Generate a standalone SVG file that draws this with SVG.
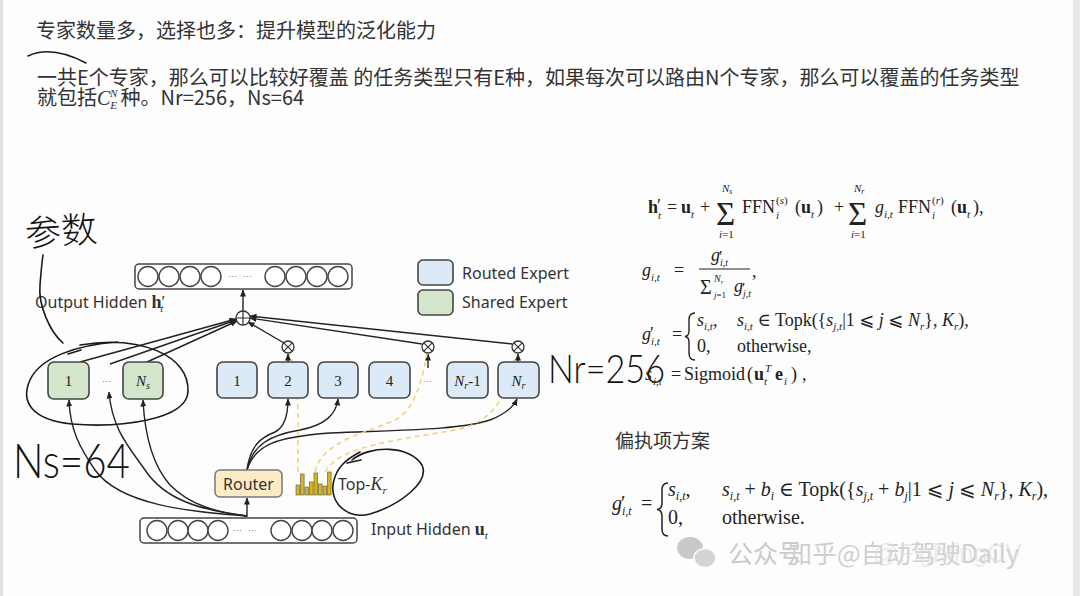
<svg xmlns="http://www.w3.org/2000/svg" width="1080" height="596" viewBox="0 0 1080 596">
<defs>
<marker id="ah" markerUnits="userSpaceOnUse" markerWidth="7" markerHeight="6" refX="6.5" refY="3" orient="auto"><path d="M0,0 L7,3 L0,6 z" fill="#222"/></marker>
<style>
.cn{font-family:"Noto Sans CJK SC","Noto Sans",sans-serif;fill:#333}
.t{font-family:"Noto Sans","Liberation Sans",sans-serif;font-size:16px;fill:#333}
.m{font-family:"Liberation Serif","DejaVu Serif","DejaVu Sans",serif;font-size:18px;fill:#222}
.i{font-style:italic}
.b{font-weight:bold}
.s{font-size:11px}
.box{stroke:#444;stroke-width:1.6}
.rt{fill:#dce9f6}
.sh{fill:#d3e6cc}
.bar{fill:#fff;stroke:#444;stroke-width:1.5}
.cir{fill:#fff;stroke:#444;stroke-width:1.4}
.num{font-family:"Liberation Serif",serif;font-size:15px;fill:#222;text-anchor:middle}
.dots{font-family:"Liberation Sans",sans-serif;font-size:9px;fill:#777}
.ln{fill:none;stroke:#222;stroke-width:1.4}
.yd{fill:none;stroke:#f1cf72;stroke-width:1.5;stroke-dasharray:5 4}
.hw{fill:none;stroke:#1a1a1a;stroke-width:1.6;stroke-linecap:round}
.hwt{font-family:Lato,"Liberation Sans",sans-serif;font-weight:300;fill:#111}
.op{fill:#fff;stroke:#333;stroke-width:1.3}
</style>
</defs>
<rect width="1080" height="596" fill="#fdfdfd"/>
<rect x="0" y="0" width="3" height="596" fill="#e2e2e2"/>
<rect x="1073" y="0" width="7" height="596" fill="#e8e8e8"/>

<g id="header">
<text class="cn" x="36" y="38" font-size="20">专家数量多，选择也多：提升模型的泛化能力</text>
<text class="cn" x="37" y="85" font-size="20">一共E个专家，那么可以比较好覆盖 的任务类型只有E种，如果每次可以路由N个专家，那么可以覆盖的任务类型</text>
<text class="cn" x="37" y="105" font-size="20">就包括<tspan font-family="Liberation Serif,serif" font-style="italic" font-size="20">C</tspan><tspan font-family="Liberation Serif,serif" font-style="italic" font-size="11" dy="4">E</tspan><tspan font-family="Liberation Serif,serif" font-style="italic" font-size="11" dx="-7" dy="-12">N</tspan><tspan dy="8" dx="3">种。Nr=256，Ns=64</tspan></text>
<path class="hw" d="M28,56 C45,48 65,52 86,63" stroke-width="1.3"/>
</g>

<g id="output-hidden">
<rect class="bar" x="135" y="264" width="217" height="25" rx="4"/>
<circle class="cir" cx="148" cy="276.5" r="10"/><circle class="cir" cx="169" cy="276.5" r="10"/><circle class="cir" cx="190" cy="276.5" r="10"/><circle class="cir" cx="211" cy="276.5" r="10"/>
<text class="dots" x="228" y="279">···</text><text class="dots" x="243" y="279">···</text>
<circle class="cir" cx="275" cy="276.5" r="10"/><circle class="cir" cx="296" cy="276.5" r="10"/><circle class="cir" cx="317" cy="276.5" r="10"/><circle class="cir" cx="338" cy="276.5" r="10"/>
<text class="t" x="35" y="308">Output Hidden <tspan font-family="Liberation Serif,serif" font-weight="bold" font-size="18">h</tspan><tspan font-family="Liberation Serif,serif" font-size="17" dy="-1">′</tspan><tspan font-family="Liberation Serif,serif" font-style="italic" font-size="11" dx="-5" dy="5">t</tspan></text>
</g>

<g id="legend">
<rect class="box rt" x="418" y="260" width="35" height="25" rx="5"/>
<text class="t" x="462" y="279">Routed Expert</text>
<rect class="box sh" x="418" y="290" width="35" height="25" rx="5"/>
<text class="t" x="462" y="308">Shared Expert</text>
</g>

<g id="connectors">
<path class="ln" d="M243,311 L243,290" marker-end="url(#ah)"/>
<path class="ln" d="M80,362 L236,319" marker-end="url(#ah)"/>
<path class="ln" d="M110,364 L236,320" marker-end="url(#ah)"/>
<path class="ln" d="M147,362 L237,321" marker-end="url(#ah)"/>
<path class="ln" d="M284,343 L248,322" marker-end="url(#ah)"/>
<path class="ln" d="M422,344 L250,318" marker-end="url(#ah)"/>
<path class="ln" d="M512,344 L250,316" marker-end="url(#ah)"/>
<path class="ln" d="M288,362 L288,354" marker-end="url(#ah)"/>
<path class="ln" d="M428,368 L428,354" marker-end="url(#ah)"/>
<path class="ln" d="M518,362 L518,354" marker-end="url(#ah)"/>
<path class="ln" d="M247,517 L247,498" marker-end="url(#ah)"/>
<path class="ln" d="M247,516 C190,512 120,505 95,470 C80,448 70,430 69,400" marker-end="url(#ah)"/>
<path class="ln" d="M247,516 C200,510 165,500 145,470 C130,448 112,430 109,392" marker-end="url(#ah)"/>
<path class="ln" d="M247,516 C215,512 190,505 170,485 C155,468 145,440 143,400" marker-end="url(#ah)"/>
<path class="ln" d="M247,470 C250,445 262,437 275,432 C285,427 288,415 288,399" marker-end="url(#ah)"/>
<path class="ln" d="M247,470 C252,445 270,435 300,430 C325,425 336,415 338,399" marker-end="url(#ah)"/>
<path class="ln" d="M247,470 C255,445 275,437 330,433 C400,430 460,430 490,420 C505,414 513,408 517,399" marker-end="url(#ah)"/>
<path class="yd" d="M298,472 L298,420 C298,390 295,370 290,354"/>
<path class="yd" d="M315,472 C322,440 370,432 395,420 C415,410 422,380 427,354"/>
<path class="yd" d="M325,472 C340,445 400,440 455,430 C495,422 508,395 515,354"/>
</g>

<g id="plus">
<circle class="op" cx="243" cy="318" r="7"/>
<path d="M236,318 H250 M243,311 V325" stroke="#333" stroke-width="1.2"/>
</g>
<g id="mult-2">
<circle class="op" cx="288" cy="347" r="6"/>
<path d="M283.8,342.8 L292.2,351.2 M292.2,342.8 L283.8,351.2" stroke="#333" stroke-width="1.2"/>
</g>
<g id="mult-k">
<circle class="op" cx="428" cy="347" r="6"/>
<path d="M423.8,342.8 L432.2,351.2 M432.2,342.8 L423.8,351.2" stroke="#333" stroke-width="1.2"/>
</g>
<g id="mult-nr">
<circle class="op" cx="518" cy="347" r="6"/>
<path d="M513.8,342.8 L522.2,351.2 M522.2,342.8 L513.8,351.2" stroke="#333" stroke-width="1.2"/>
</g>

<g id="shared-1"><rect class="box sh" x="48" y="362" width="41" height="37" rx="6"/><text class="num" x="68.5" y="386">1</text></g>
<g id="shared-dots"><text class="dots" x="102" y="384">···</text></g>
<g id="shared-ns"><rect class="box sh" x="123" y="362" width="40" height="37" rx="6"/><text class="num" x="143" y="386"><tspan font-style="italic">N</tspan><tspan font-style="italic" font-size="10" dy="3">s</tspan></text></g>

<g id="routed-1"><rect class="box rt" x="217" y="362" width="40" height="36" rx="6"/><text class="num" x="237" y="386">1</text></g>
<g id="routed-2"><rect class="box rt" x="268" y="362" width="40" height="36" rx="6"/><text class="num" x="288" y="386">2</text></g>
<g id="routed-3"><rect class="box rt" x="318" y="362" width="40" height="36" rx="6"/><text class="num" x="338" y="386">3</text></g>
<g id="routed-4"><rect class="box rt" x="369" y="362" width="41" height="36" rx="6"/><text class="num" x="389.5" y="386">4</text></g>
<g id="routed-dots"><text class="dots" x="423" y="384">···</text></g>
<g id="routed-nr-1"><rect class="box rt" x="447" y="362" width="41" height="36" rx="6"/><text class="num" x="467.5" y="386"><tspan font-style="italic">N</tspan><tspan font-style="italic" font-size="10" dy="3">r</tspan><tspan dy="-3">-1</tspan></text></g>
<g id="routed-nr"><rect class="box rt" x="498" y="362" width="41" height="36" rx="6"/><text class="num" x="518.5" y="386"><tspan font-style="italic">N</tspan><tspan font-style="italic" font-size="10" dy="3">r</tspan></text></g>

<g id="router"><rect x="215" y="470" width="67" height="27" rx="5" fill="#fbecc6" stroke="#777" stroke-width="1.5"/><text class="t" x="248.5" y="490" text-anchor="middle">Router</text></g>

<g id="topk">
<g fill="#d9b51c" stroke="#555" stroke-width="0.6">
<rect x="296" y="485" width="3.6" height="10"/><rect x="300.5" y="474" width="3.6" height="21"/><rect x="305" y="487" width="3.6" height="8"/><rect x="309.5" y="482" width="3.6" height="13"/><rect x="314" y="473" width="3.6" height="22"/><rect x="318.5" y="484" width="3.6" height="11"/><rect x="323" y="486" width="3.6" height="9"/><rect x="327.5" y="472" width="3.6" height="23"/>
</g>
<text class="t" x="338" y="490">Top-<tspan font-family="Liberation Serif,serif" font-style="italic" font-size="18">K</tspan><tspan font-family="Liberation Serif,serif" font-style="italic" font-size="11" dy="4">r</tspan></text>
</g>

<g id="input-hidden">
<rect class="bar" x="140" y="518" width="217" height="25" rx="4"/>
<circle class="cir" cx="157" cy="530.5" r="10"/><circle class="cir" cx="178" cy="530.5" r="10"/><circle class="cir" cx="198" cy="530.5" r="10"/><circle class="cir" cx="218" cy="530.5" r="10"/>
<text class="dots" x="233" y="533">···</text><text class="dots" x="248" y="533">···</text>
<circle class="cir" cx="281" cy="530.5" r="10"/><circle class="cir" cx="302" cy="530.5" r="10"/><circle class="cir" cx="322" cy="530.5" r="10"/><circle class="cir" cx="343" cy="530.5" r="10"/>
<text class="t" x="371" y="535">Input Hidden <tspan font-family="Liberation Serif,serif" font-weight="bold" font-size="18">u</tspan><tspan font-family="Liberation Serif,serif" font-style="italic" font-size="11" dy="4">t</tspan></text>
</g>

<g id="annotations">
<path class="hw" d="M80,345 C140,335 190,355 188,392 C186,420 120,428 72,424 C32,420 20,402 30,380 C40,358 75,345 118,342"/>
<path class="hw" d="M68,354 L81,350" stroke-width="1.2"/>
<path class="hw" d="M63,343 C50,332 38,305 40,285 C41,272 42,262 43,255" stroke-width="1"/>
<text class="cn" x="25" y="244" font-size="36" font-weight="300" transform="rotate(-4 60 230)" style="fill:#111">参数</text>
<path class="hw" d="M352,460 C370,445 410,445 422,465 C430,482 400,505 370,514 C345,520 328,500 334,480 C337,468 345,460 360,452"/>
<path class="hw" d="M347,463 L361,460" stroke-width="1.2"/>
<text class="hwt" x="13" y="478" font-size="48" textLength="117" lengthAdjust="spacingAndGlyphs">Ns=64</text>
<text class="hwt" x="548" y="383" font-size="40" textLength="117" lengthAdjust="spacingAndGlyphs">Nr=256</text>
</g>

<g id="formulas">
<text class="m b" x="648" y="213">h</text><text class="m" x="657" y="212">′</text><text class="m i s" x="658" y="219">t</text>
<text class="m" x="667" y="213">=</text>
<text class="m b" x="681" y="213">u</text><text class="m i s" x="691" y="218">t</text>
<text class="m" x="700" y="213">+</text>
<text class="m" x="716" y="225" style="font-size:33px">Σ</text>
<text class="m i s" x="722" y="192">N<tspan style="font-size:8px" dy="2">s</tspan></text>
<text class="m s" x="719" y="238"><tspan class="i">i</tspan>=1</text>
<text class="m" x="742" y="213">FFN</text><text class="m s" x="776" y="204">(<tspan class="i">s</tspan>)</text><text class="m i s" x="776" y="219">i</text>
<text class="m" x="795" y="213">(</text><text class="m b" x="801" y="213">u</text><text class="m i s" x="811" y="218">t</text><text class="m" x="817" y="213">)</text>
<text class="m" x="834" y="213">+</text>
<text class="m" x="848" y="225" style="font-size:33px">Σ</text>
<text class="m i s" x="854" y="192">N<tspan style="font-size:8px" dy="2">r</tspan></text>
<text class="m s" x="851" y="238"><tspan class="i">i</tspan>=1</text>
<text class="m i" x="875" y="213">g</text><text class="m i s" x="884" y="218">i,t</text>
<text class="m" x="898" y="213">FFN</text><text class="m s" x="932" y="204">(<tspan class="i">r</tspan>)</text><text class="m i s" x="932" y="219">i</text>
<text class="m" x="951" y="213">(</text><text class="m b" x="957" y="213">u</text><text class="m i s" x="967" y="218">t</text><text class="m" x="973" y="213">),</text>

<text class="m i" x="642" y="276">g</text><text class="m i s" x="651" y="281">i,t</text>
<text class="m" x="674" y="276">=</text>
<text class="m i" x="711" y="261">g</text><text class="m" x="719" y="262" style="font-size:16px">′</text><text class="m i" x="720" y="266" style="font-size:10px">i,t</text>
<line x1="699" y1="269" x2="750" y2="269" stroke="#222" stroke-width="1"/>
<text class="m" x="700" y="294" style="font-size:20px">Σ</text>
<text class="m i" x="714" y="282" style="font-size:10px">N<tspan style="font-size:7px" dy="2">r</tspan></text>
<text class="m" x="714" y="298" style="font-size:9px"><tspan class="i">j</tspan>=1</text>
<text class="m i" x="734" y="292">g</text><text class="m" x="742" y="293" style="font-size:15px">′</text><text class="m i" x="743" y="297" style="font-size:10px">j,t</text>
<text class="m" x="752" y="277">,</text>

<text class="m i" x="642" y="340">g</text><text class="m" x="650" y="340">′</text><text class="m i s" x="651" y="345">i,t</text>
<text class="m" x="672" y="340">=</text>
<path d="M695,313 Q689,313 689,320 L689,331 Q689,336 685,336.5 Q689,337 689,342 L689,353 Q689,360 695,360" fill="none" stroke="#222" stroke-width="1.4"/>
<text class="m" x="697" y="326"><tspan class="i">s</tspan><tspan class="i s" dy="4">i,t</tspan><tspan dy="-4">,</tspan></text>
<text class="m" x="737" y="326"><tspan class="i">s</tspan><tspan class="i s" dy="4">i,t</tspan><tspan dy="-4"> ∈ Topk({</tspan><tspan class="i">s</tspan><tspan class="i s" dy="4">j,t</tspan><tspan dy="-4">|1 ⩽ </tspan><tspan class="i">j</tspan><tspan> ⩽ </tspan><tspan class="i">N</tspan><tspan class="i s" dy="4">r</tspan><tspan dy="-4">}, </tspan><tspan class="i">K</tspan><tspan class="i s" dy="4">r</tspan><tspan dy="-4">),</tspan></text>
<text class="m" x="697" y="352">0,</text>
<text class="m" x="737" y="352">otherwise,</text>

<text class="m i" x="645" y="380">s</text><text class="m i s" x="653" y="385">i,t</text>
<text class="m" x="671" y="380">=</text>
<text class="m" x="684" y="380">Sigmoid</text>
<text class="m" x="747" y="380">(</text><text class="m b" x="754" y="380">u</text><text class="m i s" x="764" y="385">t</text><text class="m i s" x="765" y="372">T</text><text class="m b" x="775" y="380">e</text><text class="m i s" x="784" y="385">i</text><text class="m" x="791" y="380">)</text><text class="m" x="802" y="380">,</text>

<text class="cn" x="615" y="448" font-size="19">偏执项方案</text>

<text class="m i" x="612" y="510" style="font-size:20px">g</text><text class="m" x="621" y="510" style="font-size:20px">′</text><text class="m i" x="622" y="515" style="font-size:12px">i,t</text>
<text class="m" x="641" y="510" style="font-size:20px">=</text>
<path d="M668,483 Q662,483 662,490 L662,503 Q662,509 657,509.5 Q662,510 662,516 L662,529 Q662,536 668,536" fill="none" stroke="#222" stroke-width="1.5"/>
<text class="m" x="668" y="496" style="font-size:20px"><tspan class="i">s</tspan><tspan class="i" font-size="12" dy="4">i,t</tspan><tspan dy="-4">,</tspan></text>
<text class="m" x="722" y="496" style="font-size:20px"><tspan class="i">s</tspan><tspan class="i" font-size="12" dy="4">i,t</tspan><tspan dy="-4"> + </tspan><tspan class="i">b</tspan><tspan class="i" font-size="12" dy="4">i</tspan><tspan dy="-4"> ∈ Topk({</tspan><tspan class="i">s</tspan><tspan class="i" font-size="12" dy="4">j,t</tspan><tspan dy="-4"> + </tspan><tspan class="i">b</tspan><tspan class="i" font-size="12" dy="4">j</tspan><tspan dy="-4">|1 ⩽ </tspan><tspan class="i">j</tspan><tspan> ⩽ </tspan><tspan class="i">N</tspan><tspan class="i" font-size="12" dy="4">r</tspan><tspan dy="-4">}, </tspan><tspan class="i">K</tspan><tspan class="i" font-size="12" dy="4">r</tspan><tspan dy="-4">),</tspan></text>
<text class="m" x="668" y="524" style="font-size:20px">0,</text>
<text class="m" x="722" y="524" style="font-size:20px">otherwise.</text>
</g>

<g id="watermark" opacity="0.8">
<ellipse cx="690" cy="548" rx="13" ry="11" fill="#bdbdbd"/>
<ellipse cx="705" cy="558" rx="11" ry="9.5" fill="#c9c9c9" stroke="#fdfdfd" stroke-width="1.5"/>
<text class="cn" x="728" y="563" font-size="25" style="fill:#bdbdbd">公众号</text>
<text class="cn" x="787" y="563" font-size="25" style="fill:#c4c4c4">知乎@自动驾驶Daily</text>
<text x="873" y="562" font-family="Liberation Sans,sans-serif" font-size="25" fill="#d4d4d4" opacity="0.55">@FightingCV</text>
</g>
</svg>
